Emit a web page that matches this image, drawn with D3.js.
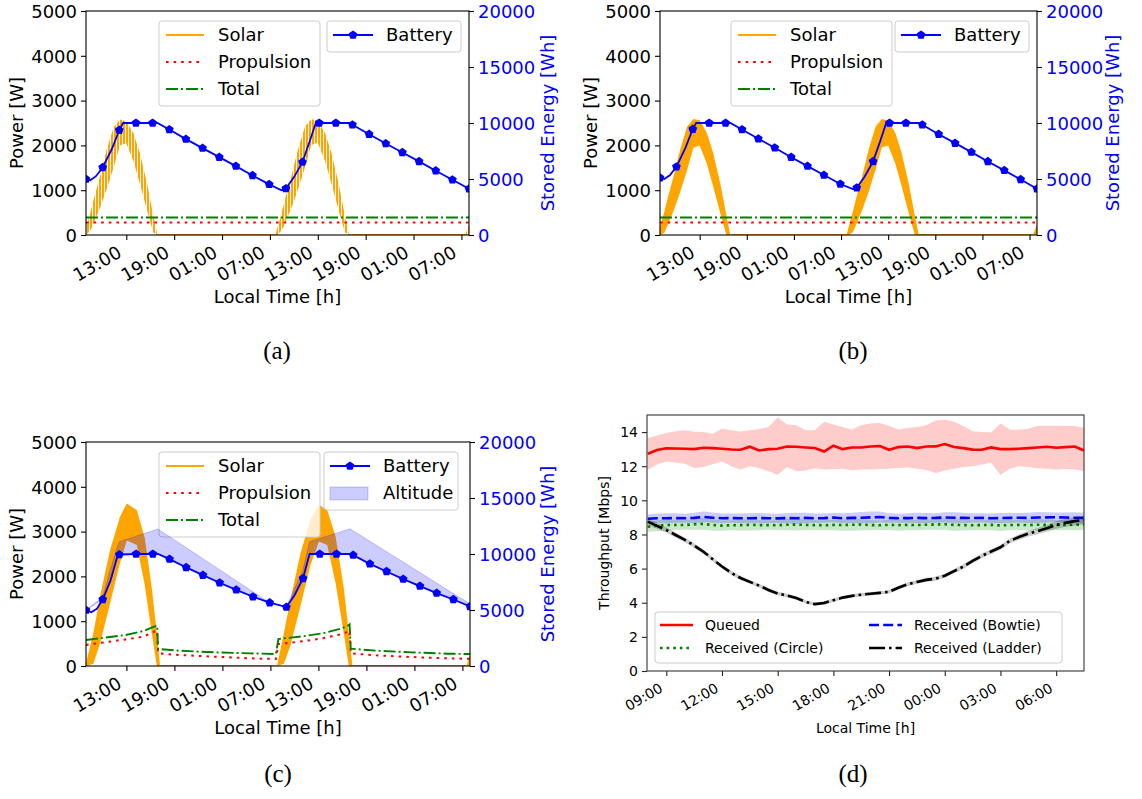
<!DOCTYPE html>
<html>
<head>
<meta charset="utf-8">
<script src="https://cdn.jsdelivr.net/npm/d3@7"></script>
<style>
  body { margin: 0; background: #fff; }
  svg text { font-family: "DejaVu Sans", sans-serif; }
</style>
</head>
<body>
<div id="chart"></div>
<script>
// ---------- data: panels (a)-(c) ----------
var hourTicks = [13, 19, 25, 31, 37, 43, 49, 55];
var hourTickLabels = ["13:00", "19:00", "01:00", "07:00", "13:00", "19:00", "01:00", "07:00"];
var powerTicks = [0, 1000, 2000, 3000, 4000, 5000];
var energyTicks = [0, 5000, 10000, 15000, 20000];

// battery markers (Wh), same hours in every panel
var battHours = [7.95, 10.04, 12.12, 14.21, 16.30, 18.39, 20.47, 22.56, 24.65, 26.73, 28.82, 30.91,
                 33.00, 35.08, 37.17, 39.26, 41.34, 43.43, 45.52, 47.60, 49.69, 51.78, 53.87, 55.95];
var battA = [4990, 6030, 9360, 10000, 10000, 9420, 8560, 7760, 6950, 6150, 5320, 4520,
             4150, 6510, 10000, 10000, 9840, 9000, 8170, 7370, 6570, 5740, 4930, 4130];
var battB = [5110, 6090, 9450, 10000, 10000, 9420, 8590, 7790, 6950, 6150, 5350, 4550,
             4220, 6570, 10000, 10000, 9840, 9000, 8200, 7400, 6570, 5770, 4960, 4130];
var battC = [4990, 5940, 9950, 10000, 10000, 9540, 8800, 8110, 7430, 6800, 6180, 5650,
             5260, 7820, 10000, 10000, 9900, 9120, 8440, 7760, 7130, 6510, 5940, 5320];
// battery line between markers (unmarked points)
var kneeHoursA = [8.5, 9.2, 11.2, 12.6, 16.9, 32.45, 34.0, 36.0, 36.75, 40.9];
var kneeA = [4880, 5250, 7700, 10000, 10000, 4000, 5150, 8400, 10000, 10000];
var kneeHoursB = [8.5, 9.2, 11.2, 12.55, 16.9, 32.5, 34.0, 36.0, 36.75, 40.9];
var kneeB = [5000, 5330, 7800, 10000, 10000, 4100, 5200, 8400, 10000, 10000];
var kneeHoursC = [8.6, 9.3, 11.0, 11.8, 16.95, 34.0, 35.9, 40.95];
var kneeC = [4800, 5100, 7600, 9600, 10000, 6300, 10000, 10000];

// solar power envelopes (W)
var solarHoursA = [7.95, 8.5, 9.0, 9.7, 10.5, 11.4, 12.2, 13.0, 13.9, 14.7, 15.6, 16.4, 16.9,
                   31.7, 31.95, 32.5, 33.0, 33.7, 34.5, 35.4, 36.2, 37.0, 37.9, 38.7, 39.6, 40.4, 40.9, 55.45, 55.95];
var solarHiA = [150, 500, 850, 1300, 1880, 2400, 2580, 2540, 2270, 1830, 1150, 420, 0,
                0, 160, 520, 870, 1320, 1900, 2420, 2590, 2550, 2280, 1840, 1160, 430, 0, 0, 230];
var solarLoA = [0, 100, 300, 600, 1000, 1500, 2000, 2050, 1650, 1150, 550, 50, 0,
                0, 0, 110, 310, 610, 1010, 1510, 2010, 2060, 1660, 1160, 560, 60, 0, 0, 0];
var solarHiB = [180, 520, 870, 1320, 1900, 2420, 2590, 2560, 2280, 1840, 1170, 440, 0,
                0, 170, 520, 870, 1320, 1900, 2420, 2590, 2550, 2280, 1840, 1160, 430, 0, 0, 240];
var solarLoB = [0, 50, 250, 550, 950, 1450, 1950, 2000, 1600, 1100, 500, 0, 0,
                0, 0, 60, 260, 560, 960, 1460, 1960, 2000, 1600, 1100, 500, 0, 0, 0, 0];
var solarHoursC = [7.95, 8.87, 9.7, 10.96, 12.2, 13.05, 14.3, 15.3, 16.2, 16.8, 17.2, 17.3,
                   31.4, 31.85, 32.68, 33.5, 34.77, 36.0, 37.06, 38.1, 39.15, 40.2, 40.8, 41.25, 41.35, 55.5, 55.95];
var solarHiC = [60, 730, 1550, 2590, 3330, 3630, 3480, 2850, 1700, 730, 20, 0,
                0, 20, 730, 1470, 2520, 3260, 3600, 3480, 2890, 1700, 730, 20, 0, 0, 250];
var solarLoC = [0, 50, 500, 1400, 2300, 2800, 2700, 1800, 700, 0, 0, 0,
                0, 0, 50, 450, 1350, 2250, 2780, 2700, 1850, 700, 0, 0, 0, 0, 0];

// propulsion and total load (W)
var loadHoursAB = [7.95, 55.95];
var propA = [280, 280], totalA = [390, 390];
var propB = [280, 280], totalB = [390, 390];
var loadHoursC = [7.95, 12.88, 15.11, 16.46, 16.85, 16.95, 19.59, 24.07, 28.55, 31.68, 32.0,
                  35.26, 37.5, 39.74, 40.6, 40.9, 41.05, 44.22, 48.7, 53.18, 55.95];
var propC = [470, 594, 654, 765, 790, 282, 245, 208, 171, 156, 490, 557, 617, 706, 760, 788, 282, 238, 200, 171, 160];
var totalC = [580, 690, 780, 877, 900, 379, 342, 305, 282, 267, 602, 669, 728, 832, 890, 929, 386, 342, 305, 275, 267];

// altitude band in panel (c) (Wh equivalent, lower edge = battery)
var altHours = [7.95, 10.04, 11.0, 11.8, 12.12, 16.95, 18.39, 20.47, 22.56, 24.65, 26.73, 28.82, 30.91,
                33.0, 35.04, 35.9, 37.17, 40.95, 41.34, 43.43, 45.52, 47.60, 49.69, 51.78, 53.87, 55.95];
var altLow = [4990, 5940, 7600, 9600, 10000, 10000, 9540, 8800, 8110, 7430, 6800, 6180, 5650,
              5260, 7820, 10000, 10000, 10000, 9900, 9120, 8440, 7760, 7130, 6510, 5940, 5320];
var altHigh = [4990, 6150, 8600, 10500, 11100, 12230, 11550, 10570, 9580, 8600, 7620, 6630, 5650,
               5300, 8500, 11100, 11390, 12250, 12075, 11140, 10205, 9275, 8340, 7405, 6470, 5550];

// ---------- data: panel (d) ----------
var dHours = [8, 8.5, 9, 9.5, 10, 10.5, 11, 11.5, 12, 12.5, 13, 13.5, 14, 14.5, 15, 15.5, 16, 16.5, 17, 17.5,
              18, 18.5, 19, 19.5, 20, 20.5, 21, 21.5, 22, 22.5, 23, 23.5, 24, 24.5, 25, 25.5, 26, 26.5, 27, 27.5,
              28, 28.5, 29, 29.5, 30, 30.5, 31, 31.5];
var dTicks = [9, 12, 15, 18, 21, 24, 27, 30];
var dTickLabels = ["09:00", "12:00", "15:00", "18:00", "21:00", "00:00", "03:00", "06:00"];
var thrTicks = [0, 2, 4, 6, 8, 10, 12, 14];

var queued = [12.73, 12.95, 13.05, 13.04, 13.02, 13.0, 13.08, 13.06, 13.02, 12.98, 12.96, 13.14, 12.92, 13.0, 13.02, 13.15,
              13.14, 13.1, 13.07, 12.86, 13.2, 13.0, 13.1, 13.1, 13.15, 13.18, 12.96, 13.12, 13.15, 13.06, 13.15, 13.16,
              13.3, 13.12, 13.06, 12.97, 12.96, 13.1, 13.0, 13.0, 13.02, 13.06, 13.1, 13.14, 13.08, 13.12, 13.15, 12.92];
var queuedHi = [13.65, 13.8, 13.94, 14.05, 14.1, 14.02, 14.0, 13.9, 14.2, 14.1, 14.04, 14.1, 14.18, 14.3, 14.85, 14.45,
                14.4, 14.1, 14.1, 14.6, 14.45, 14.3, 14.15, 14.4, 14.5, 14.53, 14.35, 14.15, 14.24, 14.3, 14.4, 14.68,
                14.72, 14.6, 14.35, 14.05, 14.0, 13.98, 14.5, 14.15, 14.14, 14.2, 14.35, 14.37, 14.37, 14.36, 14.35, 14.25];
var queuedLo = [11.79, 12.1, 12.28, 12.22, 12.15, 11.9, 11.95, 12.12, 12.28, 12.0, 11.8, 12.0, 11.9, 11.7, 11.5, 11.95,
                11.7, 11.75, 11.88, 11.8, 11.83, 11.85, 11.76, 11.8, 11.8, 11.83, 11.85, 11.9, 11.93, 11.85, 11.78, 11.6,
                11.75, 11.85, 11.95, 12.0, 12.1, 12.2, 11.5, 11.85, 12.0, 11.95, 11.88, 11.85, 11.8, 11.83, 11.8, 11.72];
var circle = [8.45, 8.52, 8.55, 8.56, 8.55, 8.6, 8.62, 8.55, 8.52, 8.54, 8.55, 8.56, 8.55, 8.55, 8.54, 8.57,
              8.58, 8.56, 8.55, 8.54, 8.56, 8.55, 8.57, 8.58, 8.55, 8.54, 8.56, 8.55, 8.56, 8.55, 8.57, 8.58,
              8.6, 8.56, 8.55, 8.54, 8.55, 8.56, 8.53, 8.55, 8.56, 8.55, 8.57, 8.56, 8.55, 8.56, 8.57, 8.58];
var circleSpread = [0.3, 0.32, 0.33, 0.3, 0.28, 0.32, 0.35, 0.33, 0.3, 0.3, 0.32, 0.33, 0.3, 0.28, 0.3, 0.33,
                    0.35, 0.32, 0.3, 0.3, 0.32, 0.33, 0.35, 0.33, 0.3, 0.28, 0.3, 0.33, 0.32, 0.3, 0.3, 0.32,
                    0.33, 0.35, 0.32, 0.3, 0.3, 0.32, 0.33, 0.3, 0.3, 0.32, 0.33, 0.32, 0.3, 0.3, 0.32, 0.3];
var bowtie = [8.92, 8.95, 8.95, 8.96, 8.95, 8.97, 9.03, 8.98, 8.95, 8.96, 8.95, 8.95, 8.96, 8.95, 8.94, 8.96,
              8.95, 8.97, 8.95, 8.96, 8.99, 8.95, 8.97, 8.98, 9.0, 9.02, 8.97, 8.95, 8.96, 8.97, 8.96, 8.97,
              9.0, 8.98, 8.97, 8.96, 8.97, 8.95, 8.96, 8.97, 8.98, 8.97, 8.99, 9.0, 9.01, 8.99, 8.98, 8.97];
var bowtieSpread = [0.25, 0.28, 0.3, 0.28, 0.27, 0.3, 0.32, 0.3, 0.28, 0.27, 0.28, 0.3, 0.3, 0.28, 0.27, 0.3,
                    0.32, 0.3, 0.28, 0.27, 0.28, 0.3, 0.3, 0.33, 0.35, 0.32, 0.28, 0.27, 0.28, 0.3, 0.3, 0.28,
                    0.3, 0.32, 0.3, 0.28, 0.27, 0.28, 0.3, 0.3, 0.28, 0.3, 0.32, 0.3, 0.28, 0.3, 0.32, 0.3];
var ladder = [8.75, 8.5, 8.26, 7.97, 7.68, 7.35, 6.99, 6.55, 6.12, 5.75, 5.45, 5.22, 5.0, 4.75, 4.54, 4.42,
              4.28, 4.05, 3.92, 3.98, 4.15, 4.3, 4.4, 4.47, 4.53, 4.58, 4.64, 4.88, 5.08, 5.22, 5.34, 5.41,
              5.58, 5.85, 6.12, 6.45, 6.75, 7.0, 7.25, 7.62, 7.85, 8.05, 8.2, 8.36, 8.55, 8.68, 8.78, 8.85];
var ladderSpread = [0.2, 0.18, 0.16, 0.15, 0.14, 0.13, 0.13, 0.12, 0.12, 0.12, 0.12, 0.11, 0.11, 0.11, 0.1, 0.1,
                    0.1, 0.1, 0.1, 0.1, 0.1, 0.1, 0.1, 0.1, 0.1, 0.1, 0.1, 0.11, 0.11, 0.11, 0.12, 0.12,
                    0.12, 0.12, 0.13, 0.13, 0.13, 0.14, 0.14, 0.15, 0.16, 0.17, 0.18, 0.2, 0.22, 0.24, 0.25, 0.25];

// ---------- drawing ----------
var svg = d3.select("#chart").append("svg")
            .attr("width", 1142)
            .attr("height", 799)
            .style("background", "#fff");
var defs = svg.append("defs");

// thin vertical stripes imitate the fast zig-zag of the solar trace in (a)
var pat = defs.append("pattern")
    .attr("id", "solarStripes")
    .attr("patternUnits", "userSpaceOnUse")
    .attr("width", 3)
    .attr("height", 8);
pat.append("rect").attr("width", 2.1).attr("height", 8).attr("fill", "#ffa500");

var ORANGE = "#ffa500", RED = "#ff0000", GREEN = "#008000", BLUE = "#0000ff";

function pentagon(r) {
  var pts = [];
  for (var i = 0; i < 5; i++) {
    var a = -Math.PI / 2 + i * 2 * Math.PI / 5;
    pts.push([r * Math.cos(a), r * Math.sin(a)]);
  }
  return "M" + pts.join("L") + "Z";
}

function rows() {
  var cols = Array.prototype.slice.call(arguments);
  return cols[0].map(function(v, i) { return cols.map(function(c) { return c[i]; }); });
}

function legendBox(g, x, y, w, h) {
  g.append("rect")
    .attr("x", x).attr("y", y)
    .attr("width", w).attr("height", h)
    .attr("rx", 3)
    .attr("fill", "#fff").attr("fill-opacity", 0.8)
    .attr("stroke", "#cccccc").attr("stroke-width", 1);
}

function legendLine(g, x1, x2, y, st, label, tx, fs) {
  g.append("line")
    .attr("x1", x1).attr("x2", x2).attr("y1", y).attr("y2", y)
    .attr("stroke", st.color).attr("stroke-width", st.width)
    .attr("stroke-dasharray", st.dash || null);
  g.append("text")
    .attr("x", tx).attr("y", y).attr("dy", "0.35em")
    .attr("font-size", fs).attr("fill", "#000")
    .text(label);
}

var solarStyle = {color: ORANGE, width: 1.9};
var propStyle = {color: RED, width: 2, dash: "2.6,5"};
var totalStyle = {color: GREEN, width: 1.9, dash: "12,3,2,3"};
var battStyle = {color: BLUE, width: 1.8};

function energyPanel(cfg) {
  var g = svg.append("g");
  var x = d3.scaleLinear().domain([7.95, 55.95]).range([cfg.x0, cfg.x1]);
  var yP = d3.scaleLinear().domain([0, 5000]).range([cfg.y1, cfg.y0]);
  var yE = d3.scaleLinear().domain([0, 20000]).range([cfg.y1, cfg.y0]);

  defs.append("clipPath").attr("id", "clip" + cfg.id)
    .append("rect")
    .attr("x", cfg.x0).attr("y", cfg.y0)
    .attr("width", cfg.x1 - cfg.x0).attr("height", cfg.y1 - cfg.y0);
  var clip = "url(#clip" + cfg.id + ")";

  // solar: envelope band and the zero line at night
  var solar = rows(cfg.solarH, cfg.solarHi, cfg.solarLo);
  g.append("path")
    .datum(solar)
    .attr("clip-path", clip)
    .attr("fill", cfg.solarFill)
    .attr("d", d3.area()
      .x(function(d) { return x(d[0]); })
      .y0(function(d) { return yP(d[2]); })
      .y1(function(d) { return yP(d[1]); }));
  g.append("path")
    .datum(solar)
    .attr("clip-path", clip)
    .attr("fill", "none")
    .attr("stroke", ORANGE).attr("stroke-width", 1.9)
    .attr("d", d3.line()
      .defined(function(d) { return d[1] === 0; })
      .x(function(d) { return x(d[0]); })
      .y(function(d) { return yP(d[1]); }));

  var loadLine = d3.line()
    .x(function(d) { return x(d[0]); })
    .y(function(d) { return yP(d[1]); });
  g.append("path")
    .datum(rows(cfg.loadH, cfg.prop))
    .attr("clip-path", clip)
    .attr("fill", "none")
    .attr("stroke", propStyle.color).attr("stroke-width", propStyle.width)
    .attr("stroke-dasharray", propStyle.dash)
    .attr("d", loadLine);
  g.append("path")
    .datum(rows(cfg.loadH, cfg.total))
    .attr("clip-path", clip)
    .attr("fill", "none")
    .attr("stroke", totalStyle.color).attr("stroke-width", totalStyle.width)
    .attr("stroke-dasharray", totalStyle.dash)
    .attr("d", loadLine);

  // legend of the power axis
  var L1 = cfg.leg1;
  legendBox(g, L1.x, L1.y, 161, 85);
  legendLine(g, L1.x + 7, L1.x + 45, L1.y + 14, solarStyle, "Solar", L1.x + 59, 18);
  legendLine(g, L1.x + 7, L1.x + 45, L1.y + 41, propStyle, "Propulsion", L1.x + 59, 18);
  legendLine(g, L1.x + 7, L1.x + 45, L1.y + 68, totalStyle, "Total", L1.x + 59, 18);

  // altitude band (panel c only)
  if (cfg.alt) {
    g.append("path")
      .datum(rows(altHours, altLow, altHigh))
      .attr("clip-path", clip)
      .attr("fill", BLUE).attr("fill-opacity", 0.2)
      .attr("stroke", BLUE).attr("stroke-opacity", 0.2).attr("stroke-width", 1)
      .attr("d", d3.area()
        .x(function(d) { return x(d[0]); })
        .y0(function(d) { return yE(d[1]); })
        .y1(function(d) { return yE(d[2]); }));
  }

  // battery
  var marks = rows(battHours, cfg.batt);
  var pts = marks.concat(rows(cfg.kneeH, cfg.knee)).sort(function(a, b) { return a[0] - b[0]; });
  g.append("path")
    .datum(pts)
    .attr("clip-path", clip)
    .attr("fill", "none")
    .attr("stroke", BLUE).attr("stroke-width", battStyle.width)
    .attr("d", d3.line()
      .x(function(d) { return x(d[0]); })
      .y(function(d) { return yE(d[1]); }));
  g.append("g").attr("clip-path", clip)
    .selectAll("path").data(marks).enter()
    .append("path")
    .attr("d", pentagon(4.6))
    .attr("fill", BLUE)
    .attr("transform", function(d) { return "translate(" + x(d[0]) + "," + yE(d[1]) + ")"; });

  var L2 = cfg.leg2;
  var l2h = cfg.alt ? 58 : 31;
  legendBox(g, L2.x, L2.y, 134, l2h);
  legendLine(g, L2.x + 6, L2.x + 46, L2.y + 14, battStyle, "Battery", L2.x + 59, 18);
  g.append("path").attr("d", pentagon(4.6)).attr("fill", BLUE)
    .attr("transform", "translate(" + (L2.x + 26) + "," + (L2.y + 14) + ")");
  if (cfg.alt) {
    g.append("rect")
      .attr("x", L2.x + 6).attr("y", L2.y + 35)
      .attr("width", 38).attr("height", 13)
      .attr("fill", BLUE).attr("fill-opacity", 0.2)
      .attr("stroke", BLUE).attr("stroke-opacity", 0.2);
    g.append("text")
      .attr("x", L2.x + 59).attr("y", L2.y + 41).attr("dy", "0.35em")
      .attr("font-size", 18).text("Altitude");
  }

  // axes
  var ax = g.append("g")
    .attr("transform", "translate(0," + cfg.y1 + ")")
    .call(d3.axisBottom(x).tickValues(hourTicks)
      .tickFormat(function(d, i) { return hourTickLabels[i]; })
      .tickSize(5));
  ax.selectAll("text")
    .attr("x", 0).attr("y", 0).attr("dy", 0)
    .attr("text-anchor", "end")
    .attr("transform", "translate(-4,21) rotate(-30)");

  var ayl = g.append("g")
    .attr("transform", "translate(" + cfg.x0 + ",0)")
    .call(d3.axisLeft(yP).tickValues(powerTicks).tickFormat(d3.format("d")).tickSize(5).tickPadding(4));
  var ayr = g.append("g")
    .attr("transform", "translate(" + cfg.x1 + ",0)")
    .call(d3.axisRight(yE).tickValues(energyTicks).tickFormat(d3.format("d")).tickSize(5).tickPadding(4));
  [ax, ayl, ayr].forEach(function(a) {
    a.attr("font-size", 18).attr("font-family", "DejaVu Sans");
    a.select(".domain").remove();
    a.selectAll("line").attr("stroke", "#000").attr("stroke-width", 1.1);
    a.selectAll("text").attr("fill", "#000");
  });
  ayl.selectAll("text").attr("dy", "0.35em");
  ayr.selectAll("text").attr("dy", "0.35em").attr("fill", BLUE);

  g.append("rect")
    .attr("x", cfg.x0).attr("y", cfg.y0)
    .attr("width", cfg.x1 - cfg.x0).attr("height", cfg.y1 - cfg.y0)
    .attr("fill", "none").attr("stroke", "#000").attr("stroke-width", 1.1);

  var midY = (cfg.y0 + cfg.y1) / 2;
  g.append("text")
    .attr("transform", "translate(" + cfg.ylabX + "," + midY + ") rotate(-90)")
    .attr("text-anchor", "middle").attr("dy", "0.35em")
    .attr("font-size", 18).text("Power [W]");
  g.append("text")
    .attr("transform", "translate(" + cfg.y2labX + "," + midY + ") rotate(-90)")
    .attr("text-anchor", "middle").attr("dy", "0.35em")
    .attr("font-size", 18).attr("fill", BLUE).text("Stored Energy [Wh]");
  g.append("text")
    .attr("x", (cfg.x0 + cfg.x1) / 2).attr("y", cfg.y1 + 62).attr("dy", "0.35em")
    .attr("text-anchor", "middle")
    .attr("font-size", 18).text("Local Time [h]");
}

energyPanel({id: "a", x0: 86, x1: 469, y0: 11, y1: 235,
  solarH: solarHoursA, solarHi: solarHiA, solarLo: solarLoA, solarFill: "url(#solarStripes)",
  loadH: loadHoursAB, prop: propA, total: totalA,
  batt: battA, kneeH: kneeHoursA, knee: kneeA,
  leg1: {x: 159, y: 21}, leg2: {x: 327, y: 21}, ylabX: 17, y2labX: 548});

energyPanel({id: "b", x0: 660, x1: 1037, y0: 11, y1: 235,
  solarH: solarHoursA, solarHi: solarHiB, solarLo: solarLoB, solarFill: ORANGE,
  loadH: loadHoursAB, prop: propB, total: totalB,
  batt: battB, kneeH: kneeHoursB, knee: kneeB,
  leg1: {x: 731, y: 21}, leg2: {x: 895, y: 21}, ylabX: 591, y2labX: 1113});

energyPanel({id: "c", x0: 86, x1: 470, y0: 442, y1: 666,
  solarH: solarHoursC, solarHi: solarHiC, solarLo: solarLoC, solarFill: ORANGE,
  loadH: loadHoursC, prop: propC, total: totalC,
  batt: battC, kneeH: kneeHoursC, knee: kneeC, alt: true,
  leg1: {x: 159, y: 452}, leg2: {x: 324, y: 452}, ylabX: 17, y2labX: 548});

// ---------- panel (d) ----------
(function() {
  var x0 = 647, x1 = 1084, y0 = 415, y1 = 671;
  var g = svg.append("g");
  var x = d3.scaleLinear().domain([7.96, 31.5]).range([x0, x1]);
  var y = d3.scaleLinear().domain([0, 15]).range([y1, y0]);
  defs.append("clipPath").attr("id", "clipd")
    .append("rect").attr("x", x0).attr("y", y0).attr("width", x1 - x0).attr("height", y1 - y0);

  var band = d3.area()
    .x(function(d) { return x(d[0]); })
    .y0(function(d) { return y(d[1]); })
    .y1(function(d) { return y(d[2]); });
  var line = d3.line()
    .x(function(d) { return x(d[0]); })
    .y(function(d) { return y(d[1]); });

  function series(mean, lo, hi, color, dash) {
    g.append("path")
      .datum(rows(dHours, lo, hi))
      .attr("clip-path", "url(#clipd)")
      .attr("fill", color).attr("fill-opacity", 0.2)
      .attr("d", band);
    g.append("path")
      .datum(rows(dHours, mean))
      .attr("clip-path", "url(#clipd)")
      .attr("fill", "none")
      .attr("stroke", color).attr("stroke-width", 2.6)
      .attr("stroke-dasharray", dash)
      .attr("d", line);
  }
  function minus(m, s) { return m.map(function(v, i) { return v - s[i]; }); }
  function plus(m, s) { return m.map(function(v, i) { return v + s[i]; }); }

  series(queued, queuedLo, queuedHi, RED, null);
  series(circle, minus(circle, circleSpread), plus(circle, circleSpread), GREEN, "2.6,4");
  series(bowtie, minus(bowtie, bowtieSpread), plus(bowtie, bowtieSpread), BLUE, "10,4.2");
  series(ladder, minus(ladder, ladderSpread), plus(ladder, ladderSpread), "#000", "16,4,2.6,4");

  // legend
  legendBox(g, 655, 612, 407, 51);
  legendLine(g, 660, 693, 625, {color: RED, width: 2.6}, "Queued", 705, 14);
  legendLine(g, 660, 693, 648, {color: GREEN, width: 2.6, dash: "2.6,4"}, "Received (Circle)", 705, 14);
  legendLine(g, 869, 902, 625, {color: BLUE, width: 2.6, dash: "10,4.2"}, "Received (Bowtie)", 914, 14);
  legendLine(g, 869, 902, 648, {color: "#000", width: 2.6, dash: "16,4,2.6,4"}, "Received (Ladder)", 914, 14);

  var ax = g.append("g")
    .attr("transform", "translate(0," + y1 + ")")
    .call(d3.axisBottom(x).tickValues(dTicks)
      .tickFormat(function(d, i) { return dTickLabels[i]; })
      .tickSize(5));
  ax.selectAll("text")
    .attr("x", 0).attr("y", 0).attr("dy", 0)
    .attr("text-anchor", "end")
    .attr("transform", "translate(-3,20) rotate(-30)");
  var ay = g.append("g")
    .attr("transform", "translate(" + x0 + ",0)")
    .call(d3.axisLeft(y).tickValues(thrTicks).tickSize(5).tickPadding(4));
  ay.selectAll("text").attr("dy", "0.35em");
  [ax, ay].forEach(function(a) {
    a.attr("font-size", 14).attr("font-family", "DejaVu Sans");
    a.select(".domain").remove();
    a.selectAll("line").attr("stroke", "#222").attr("stroke-width", 1.1);
    a.selectAll("text").attr("fill", "#000");
  });

  g.append("rect")
    .attr("x", x0).attr("y", y0).attr("width", x1 - x0).attr("height", y1 - y0)
    .attr("fill", "none").attr("stroke", "#333").attr("stroke-width", 1.1);

  g.append("text")
    .attr("transform", "translate(604," + ((y0 + y1) / 2) + ") rotate(-90)")
    .attr("text-anchor", "middle").attr("dy", "0.35em")
    .attr("font-size", 14).text("Throughput [Mbps]");
  g.append("text")
    .attr("x", (x0 + x1) / 2).attr("y", 728).attr("dy", "0.35em")
    .attr("text-anchor", "middle")
    .attr("font-size", 14).text("Local Time [h]");
})();

// ---------- captions ----------
var captions = [["(a)", 277, 350], ["(b)", 853, 350], ["(c)", 278, 773], ["(d)", 853, 773]];
svg.selectAll(".caption").data(captions).enter()
  .append("text")
  .attr("class", "caption")
  .attr("x", function(d) { return d[1]; })
  .attr("y", function(d) { return d[2]; })
  .attr("dy", "0.35em")
  .attr("text-anchor", "middle")
  .style("font-family", "'Liberation Serif', serif")
  .attr("font-size", 25)
  .text(function(d) { return d[0]; });
</script>
</body>
</html>
